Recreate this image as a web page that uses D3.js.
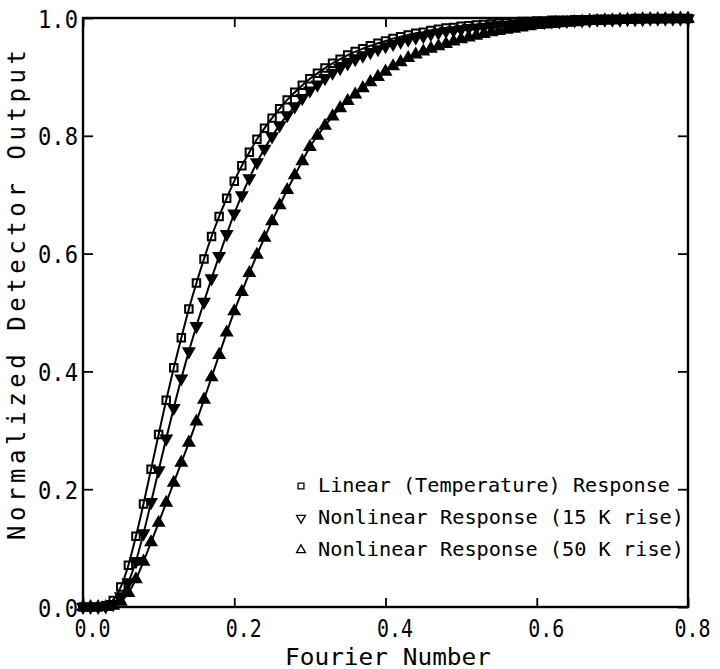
<!DOCTYPE html>
<html>
<head>
<meta charset="utf-8">
<script src="https://cdn.jsdelivr.net/npm/d3@7"></script>
<style>
  html, body { margin: 0; padding: 0; background: #fff; }
  svg { display: block; }
  text { font-family: "DejaVu Sans Mono", "Liberation Mono", monospace; fill: #000; }
</style>
</head>
<body>
<div id="chart"></div>
<script>
// Fourier number grid (x) shared by the three series
const fourier = [
  0.00, 0.01, 0.02, 0.03, 0.04, 0.05, 0.06, 0.07, 0.08, 0.09,
  0.10, 0.11, 0.12, 0.13, 0.14, 0.15, 0.16, 0.17, 0.18, 0.19,
  0.20, 0.21, 0.22, 0.23, 0.24, 0.25, 0.26, 0.27, 0.28, 0.29,
  0.30, 0.31, 0.32, 0.33, 0.34, 0.35, 0.36, 0.37, 0.38, 0.39,
  0.40, 0.41, 0.42, 0.43, 0.44, 0.45, 0.46, 0.47, 0.48, 0.49,
  0.50, 0.51, 0.52, 0.53, 0.54, 0.55, 0.56, 0.57, 0.58, 0.59,
  0.60, 0.61, 0.62, 0.63, 0.64, 0.65, 0.66, 0.67, 0.68, 0.69,
  0.70, 0.71, 0.72, 0.73, 0.74, 0.75, 0.76, 0.77, 0.78, 0.79,
  0.80
];

// Linear (Temperature) Response
const linearResp = [
  0.000, 0.000, 0.000, 0.002, 0.011, 0.034, 0.071, 0.120, 0.175, 0.234,
  0.293, 0.351, 0.406, 0.457, 0.506, 0.550, 0.591, 0.629, 0.663, 0.694,
  0.723, 0.749, 0.772, 0.794, 0.813, 0.830, 0.846, 0.861, 0.874, 0.886,
  0.897, 0.906, 0.915, 0.923, 0.930, 0.937, 0.943, 0.948, 0.953, 0.957,
  0.961, 0.965, 0.968, 0.971, 0.974, 0.976, 0.979, 0.981, 0.983, 0.984,
  0.986, 0.987, 0.988, 0.989, 0.990, 0.991, 0.992, 0.993, 0.994, 0.994,
  0.995, 0.995, 0.996, 0.996, 0.996, 0.997, 0.997, 0.997, 0.998, 0.998,
  0.998, 0.998, 0.998, 0.999, 0.999, 0.999, 0.999, 0.999, 0.999, 0.999,
  0.999
];

// Nonlinear Response (15 K rise)
const nonlin15 = [
  0.000, 0.000, 0.000, 0.001, 0.005, 0.018, 0.042, 0.078, 0.125, 0.178,
  0.232, 0.286, 0.338, 0.388, 0.434, 0.477, 0.518, 0.558, 0.596, 0.633,
  0.668, 0.699, 0.728, 0.755, 0.778, 0.799, 0.818, 0.835, 0.850, 0.864,
  0.877, 0.887, 0.898, 0.907, 0.915, 0.923, 0.930, 0.936, 0.942, 0.947,
  0.952, 0.956, 0.960, 0.963, 0.967, 0.969, 0.973, 0.975, 0.978, 0.979,
  0.981, 0.983, 0.984, 0.985, 0.987, 0.988, 0.989, 0.990, 0.992, 0.992,
  0.993, 0.993, 0.994, 0.994, 0.995, 0.996, 0.996, 0.996, 0.997, 0.997,
  0.997, 0.997, 0.998, 0.998, 0.998, 0.999, 0.999, 0.999, 0.999, 0.999,
  0.999
];

// Nonlinear Response (50 K rise)
const nonlin50 = [
  0.000, 0.000, 0.000, 0.000, 0.002, 0.009, 0.024, 0.047, 0.077, 0.110,
  0.143, 0.177, 0.211, 0.245, 0.279, 0.315, 0.352, 0.390, 0.428, 0.466,
  0.502, 0.535, 0.567, 0.598, 0.627, 0.655, 0.682, 0.708, 0.733, 0.757,
  0.781, 0.800, 0.817, 0.833, 0.847, 0.859, 0.870, 0.881, 0.891, 0.900,
  0.909, 0.918, 0.925, 0.932, 0.938, 0.943, 0.948, 0.952, 0.956, 0.960,
  0.964, 0.967, 0.970, 0.973, 0.976, 0.978, 0.980, 0.982, 0.984, 0.986,
  0.988, 0.989, 0.990, 0.991, 0.992, 0.993, 0.994, 0.995, 0.995, 0.996,
  0.996, 0.997, 0.997, 0.997, 0.998, 0.998, 0.998, 0.998, 0.999, 0.999,
  0.999
];

const xTicks = [0.0, 0.2, 0.4, 0.6, 0.8];
const yTicks = [0.0, 0.2, 0.4, 0.6, 0.8, 1.0];

const seriesNames = [
  'Linear (Temperature) Response',
  'Nonlinear Response (15 K rise)',
  'Nonlinear Response (50 K rise)'
];

const width = 720;
const height = 669;
const margin = { top: 18, right: 32, bottom: 62, left: 83 };

const svg = d3.select('#chart')
  .append('svg')
  .attr('width', width)
  .attr('height', height);

const xScale = d3.scaleLinear()
  .domain([0, 0.8])
  .range([margin.left, width - margin.right]);

const yScale = d3.scaleLinear()
  .domain([0, 1])
  .range([height - margin.bottom, margin.top]);

// axes with inward ticks
const xAxis = d3.axisBottom(xScale)
  .tickValues(xTicks)
  .tickFormat(d3.format('.1f'))
  .tickSizeInner(-9)
  .tickSizeOuter(0)
  .tickPadding(12);

const yAxis = d3.axisLeft(yScale)
  .tickValues(yTicks)
  .tickFormat(d3.format('.1f'))
  .tickSizeInner(-10)
  .tickSizeOuter(0)
  .tickPadding(5);

const gx = svg.append('g')
  .attr('id', 'x-axis')
  .attr('transform', `translate(0, ${height - margin.bottom})`)
  .call(xAxis);

const gy = svg.append('g')
  .attr('id', 'y-axis')
  .attr('transform', `translate(${margin.left}, 0)`)
  .call(yAxis);

svg.append('g')
  .attr('transform', `translate(0, ${margin.top})`)
  .call(d3.axisTop(xScale).tickValues(xTicks).tickFormat('').tickSizeInner(-9).tickSizeOuter(0));

svg.append('g')
  .attr('transform', `translate(${width - margin.right}, 0)`)
  .call(d3.axisRight(yScale).tickValues(yTicks).tickFormat('').tickSizeInner(-10).tickSizeOuter(0));

svg.selectAll('.domain').remove();
svg.selectAll('.tick line').attr('stroke', '#000').attr('stroke-width', 1.8);

gx.selectAll('text')
  .attr('dx', d => d === 0.8 ? 4 : 9)
  .style('font-size', '25px')
  .attr('textLength', 36)
  .attr('lengthAdjust', 'spacingAndGlyphs');

gy.selectAll('text')
  .style('font-size', '25px')
  .attr('dy', '0.36em')
  .attr('textLength', 40)
  .attr('lengthAdjust', 'spacingAndGlyphs');

// frame
svg.append('rect')
  .attr('x', xScale(0))
  .attr('y', yScale(1))
  .attr('width', xScale(0.8) - xScale(0))
  .attr('height', yScale(0) - yScale(1))
  .attr('fill', 'none')
  .attr('stroke', '#000')
  .attr('stroke-width', 2.4);

// axis titles
svg.append('text')
  .attr('x', 388)
  .attr('y', 665)
  .attr('text-anchor', 'middle')
  .style('font-size', '23px')
  .attr('textLength', 206)
  .attr('lengthAdjust', 'spacingAndGlyphs')
  .text('Fourier Number');

svg.append('text')
  .attr('transform', 'translate(25, 295) rotate(-90)')
  .attr('text-anchor', 'middle')
  .style('font-size', '24px')
  .attr('textLength', 490)
  .attr('lengthAdjust', 'spacing')
  .text('Normalized Detector Output');

// series
const series = [
  { name: seriesNames[0], values: linearResp, symbol: d3.symbolSquare, size: 56, rot: 0, fill: 'none' },
  { name: seriesNames[1], values: nonlin15, symbol: d3.symbolTriangle, size: 48, rot: 180, fill: '#000' },
  { name: seriesNames[2], values: nonlin50, symbol: d3.symbolTriangle, size: 48, rot: 0, fill: '#000' }
];

const line = d3.line()
  .x(d => xScale(d[0]))
  .y(d => yScale(d[1]))
  .curve(d3.curveMonotoneX);

series.forEach(s => {
  const pts = fourier.map((f, i) => [f, s.values[i]]);

  svg.append('path')
    .datum(pts)
    .attr('d', line)
    .attr('fill', 'none')
    .attr('stroke', '#000')
    .attr('stroke-width', 2);

  svg.append('g')
    .selectAll('path')
    .data(pts)
    .enter()
    .append('path')
    .attr('d', d3.symbol().type(s.symbol).size(s.size))
    .attr('transform', d => `translate(${xScale(d[0])}, ${yScale(d[1])}) rotate(${s.rot})`)
    .attr('fill', s.fill)
    .attr('stroke', '#000')
    .attr('stroke-width', 2);
});

// legend
const legend = svg.append('g');
const rowY = [491, 523, 555];

series.forEach((s, i) => {
  legend.append('path')
    .attr('d', d3.symbol().type(s.symbol).size(34))
    .attr('transform', `translate(301, ${rowY[i] - 5}) rotate(${s.rot})`)
    .attr('fill', 'none')
    .attr('stroke', '#000')
    .attr('stroke-width', 1.3);

  legend.append('text')
    .attr('x', 318)
    .attr('y', rowY[i] + 1)
    .style('font-size', '19px')
    .attr('textLength', i === 0 ? 352 : 366)
    .attr('lengthAdjust', 'spacingAndGlyphs')
    .text(s.name);
});
</script>
</body>
</html>
